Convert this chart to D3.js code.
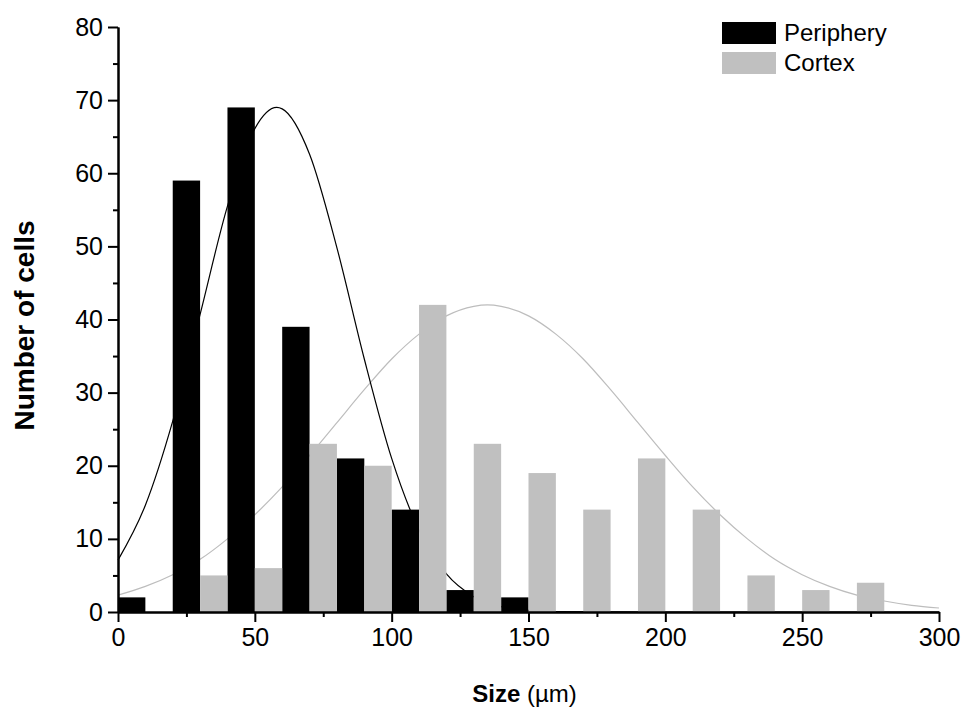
<!DOCTYPE html>
<html>
<head>
  <meta charset="utf-8">
  <script src="https://d3js.org/d3.v7.min.js"></script>
  <style>
    body { margin: 0; background: #fff; }
    text { font-family: "Liberation Sans", Arial, sans-serif; fill: #000; }
    .axis path, .axis line { stroke: #000; stroke-width: 2px; }
    .axis text { font-size: 25px; }
  </style>
</head>
<body>
<script>
  // histogram bins (left edge of each bar, in µm) and counts
  var binWidth = 10;
  var peripheryBins = [0, 20, 40, 60, 80, 100, 120, 140];
  var peripheryCounts = [2, 59, 69, 39, 21, 14, 3, 2];
  var cortexBins = [30, 50, 70, 90, 110, 130, 150, 170, 190, 210, 230, 250, 270];
  var cortexCounts = [5, 6, 23, 20, 42, 23, 19, 14, 21, 14, 5, 3, 4];

  // fitted curves
  var peripheryCurveX = [0, 10, 20, 30, 40, 50, 58, 60, 70, 80, 90, 100, 110, 120, 130, 140, 150, 160, 200, 300];
  var peripheryCurveY = [7.1, 14.6, 26.1, 40.7, 55.5, 66.1, 69, 68.8, 62.6, 49.8, 34.6, 21.0, 11.2, 5.2, 2.1, 0.74, 0.23, 0.06, 0, 0];
  var cortexCurveX = [0, 10, 20, 30, 40, 50, 60, 70, 80, 90, 100, 110, 120, 130, 135, 140, 150, 160, 170, 180, 190, 200, 210, 220, 230, 240, 250, 260, 270, 280, 290, 300];
  var cortexCurveY = [2.3, 3.5, 5.1, 7.2, 10.0, 13.3, 17.1, 21.4, 25.9, 30.4, 34.6, 38.0, 40.5, 41.8, 42, 41.8, 40.5, 38.0, 34.6, 30.4, 25.9, 21.4, 17.1, 13.3, 10.0, 7.2, 5.1, 3.5, 2.3, 1.5, 0.91, 0.55];

  var xTicks = [0, 50, 100, 150, 200, 250, 300];
  var xMinorTicks = [25, 75, 125, 175, 225, 275];
  var yTicks = [0, 10, 20, 30, 40, 50, 60, 70, 80];
  var yMinorTicks = [5, 15, 25, 35, 45, 55, 65, 75];

  var seriesNames = ["Periphery", "Cortex"];
  var seriesColors = ["#000000", "#c0c0c0"];

  // layout
  var width = 968, height = 713;
  var plotLeft = 118, plotRight = 939, plotTop = 27, plotBottom = 612;

  var svg = d3.select("body").append("svg")
    .attr("width", width)
    .attr("height", height);

  var x = d3.scaleLinear().domain([0, 300]).range([plotLeft, plotRight]);
  var y = d3.scaleLinear().domain([0, 80]).range([plotBottom, plotTop]);

  // fitted curves go under the bars
  var line = d3.line()
    .x(function (d) { return x(d[0]); })
    .y(function (d) { return y(d[1]); })
    .curve(d3.curveMonotoneX);

  svg.append("path")
    .datum(d3.zip(cortexCurveX, cortexCurveY))
    .attr("d", line)
    .attr("fill", "none")
    .attr("stroke", "#bdbdbd")
    .attr("stroke-width", 1.2);

  svg.append("path")
    .datum(d3.zip(peripheryCurveX, peripheryCurveY))
    .attr("d", line)
    .attr("fill", "none")
    .attr("stroke", "#000")
    .attr("stroke-width", 1.2);

  // bars
  function drawBars(bins, counts, color) {
    svg.append("g").selectAll("rect")
      .data(d3.zip(bins, counts))
      .enter()
      .append("rect")
      .attr("x", function (d) { return x(d[0]); })
      .attr("y", function (d) { return y(d[1]); })
      .attr("width", function (d) { return x(d[0] + binWidth) - x(d[0]); })
      .attr("height", function (d) { return y(0) - y(d[1]); })
      .attr("fill", color);
  }
  drawBars(peripheryBins, peripheryCounts, seriesColors[0]);
  drawBars(cortexBins, cortexCounts, seriesColors[1]);

  // axes, major + minor ticks
  svg.append("g")
    .attr("class", "axis")
    .attr("transform", "translate(0," + plotBottom + ")")
    .call(d3.axisBottom(x).tickValues(xMinorTicks).tickSize(5).tickFormat("").tickSizeOuter(0));
  svg.append("g")
    .attr("class", "axis")
    .attr("transform", "translate(0," + plotBottom + ")")
    .call(d3.axisBottom(x).tickValues(xTicks).tickSize(10).tickPadding(6).tickSizeOuter(0));

  svg.append("g")
    .attr("class", "axis")
    .attr("transform", "translate(" + plotLeft + ",0)")
    .call(d3.axisLeft(y).tickValues(yMinorTicks).tickSize(5).tickFormat("").tickSizeOuter(0));
  svg.append("g")
    .attr("class", "axis")
    .attr("transform", "translate(" + plotLeft + ",0)")
    .call(d3.axisLeft(y).tickValues(yTicks).tickSize(10).tickPadding(5).tickSizeOuter(0));

  // axis titles
  var xTitle = svg.append("text")
    .attr("x", (plotLeft + plotRight) / 2 - 4)
    .attr("y", 702)
    .attr("text-anchor", "middle")
    .style("font-size", "24px");
  xTitle.append("tspan").style("font-weight", "bold").text("Size");
  xTitle.append("tspan").text(" (\u00b5m)");

  svg.append("text")
    .attr("transform", "translate(34," + ((plotTop + plotBottom) / 2 + 6) + ") rotate(-90)")
    .attr("text-anchor", "middle")
    .style("font-size", "28px")
    .style("font-weight", "bold")
    .text("Number of cells");

  // legend
  var legend = svg.append("g").selectAll("g")
    .data(seriesNames)
    .enter()
    .append("g")
    .attr("transform", function (d, i) { return "translate(722," + (22 + i * 30) + ")"; });
  legend.append("rect")
    .attr("width", 54)
    .attr("height", 22)
    .attr("fill", function (d, i) { return seriesColors[i]; });
  legend.append("text")
    .attr("x", 62)
    .attr("y", 11)
    .attr("dy", "0.35em")
    .style("font-size", "24px")
    .text(function (d) { return d; });
</script>
</body>
</html>
